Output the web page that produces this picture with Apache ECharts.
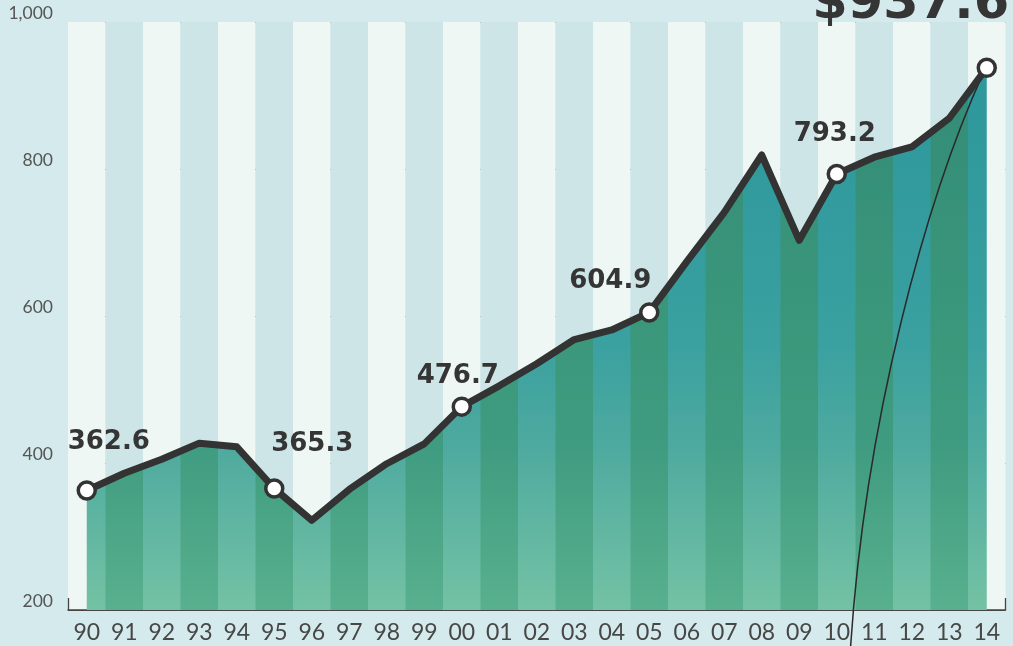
<!DOCTYPE html>
<html>
<head>
<meta charset="utf-8">
<script src="https://cdn.jsdelivr.net/npm/echarts@6/dist/echarts.min.js"></script>
<style>
html,body{margin:0;padding:0;background:#d5eaec;}
#c{width:1013px;height:646px;}
</style>
</head>
<body>
<div id="c"></div>
<script>
// ---- data ----
const categories = ['90','91','92','93','94','95','96','97','98','99','00','01','02','03','04','05','06','07','08','09','10','11','12','13','14'];
const values = [362.6, 386, 405, 427, 422, 365.3, 322, 364, 399, 426, 476.7, 505, 535, 568, 581, 604.9, 674, 741, 819, 703, 793.2, 816, 830, 869, 937.6];
const labeledIdx = [0, 5, 10, 15, 20, 24];
const yTickValues = [200, 400, 600, 800, 1000];
const yTickLabels = ['200', '400', '600', '800', '1,000'];

// ---- styles ----
const labelOffsets = {0:[22,-20], 5:[38,-16], 10:[-4,-2], 15:[-39,-3], 20:[-2,-11], 24:[-76,-22]};
const chart = echarts.init(document.getElementById('c'), null, {renderer:'canvas'});

const lineData = values.map((v, i) => {
  const isLab = labeledIdx.indexOf(i) >= 0;
  const item = { value: v, symbol: isLab ? 'circle' : 'none' };
  if (isLab) {
    const last = i === values.length - 1;
    item.label = {
      show: true,
      position: 'top',
      offset: labelOffsets[i],
      formatter: last ? '$' + v.toFixed(1) : v.toFixed(1),
      fontFamily: 'DejaVu Sans',
      fontWeight: 'bold',
      fontSize: last ? 51 : 26,
      color: '#353535'
    };
  }
  return item;
});

function bandGradient(i, yTop, yBot) {
  const even = i % 2 === 0;
  const stops = even
    ? [{offset:0,color:'#2e989c'},{offset:0.47,color:'#3aa0a0'},{offset:0.68,color:'#4eaa9f'},{offset:1,color:'#74c2a4'}]
    : [{offset:0,color:'#348d78'},{offset:0.47,color:'#3b987b'},{offset:0.68,color:'#409c80'},{offset:1,color:'#58b08e'}];
  return {type:'linear', x:0, y:yTop, x2:0, y2:yBot, global:true, colorStops: stops};
}

const option = {
  backgroundColor: '#d5eaec',
  animation: false,
  grid: { left: 68, right: 7.5, top: 22, bottom: 36 },
  xAxis: {
    type: 'category',
    data: categories,
    boundaryGap: true,
    axisLine: { show: true, lineStyle: { color: '#444', width: 1.5 } },
    axisTick: { show: true, inside: true, length: 12, lineStyle: { color: '#444', width: 1.3 } },
    axisLabel: { margin: 11, fontSize: 23, color: '#474747', fontFamily: 'Lato' },
    splitLine: { show: false },
    splitArea: { show: true, interval: 0, areaStyle: { color: ['#eef7f4', '#cde5e7'] } }
  },
  yAxis: {
    type: 'value',
    min: 200, max: 1000, interval: 200,
    axisLine: { show: false },
    axisTick: { show: false },
    axisLabel: {
      margin: 15, fontSize: 17.5, color: '#555', fontFamily: 'Lato', verticalAlign: 'bottom',
      formatter: function (v) { const k = yTickValues.indexOf(v); return k >= 0 ? yTickLabels[k] : ''; }
    },
    splitLine: { show: true, lineStyle: { color: '#4a4a4a', width: 1.2 } }
  },
  series: [
    {
      type: 'custom',
      z: 2,
      silent: true,
      data: values.map((v, i) => [i, v]),
      encode: { x: 0, y: 1 },
      renderItem: function (params, api) {
        const i = api.value(0);
        const n = values.length;
        const c = api.coord([i, values[i]]);
        const bw = api.size([1, 0])[0];
        const yBot = api.coord([i, 200])[1];
        const yTop = api.coord([i, 1000])[1];
        const pts = [];
        let lx = c[0], rx = c[0];
        if (i > 0) {
          const mid = (values[i - 1] + values[i]) / 2;
          lx = c[0] - bw / 2;
          pts.push([lx, api.coord([i, mid])[1]]);
        }
        pts.push([c[0], c[1]]);
        if (i < n - 1) {
          const mid = (values[i + 1] + values[i]) / 2;
          rx = c[0] + bw / 2 + 0.5;
          pts.push([rx, api.coord([i, mid])[1]]);
        }
        pts.push([rx, yBot]);
        pts.push([lx, yBot]);
        return {
          type: 'polygon',
          shape: { points: pts },
          style: { fill: bandGradient(i, yTop + 80, yBot), stroke: null }
        };
      }
    },
    {
      type: 'line',
      z: 5,
      data: lineData,
      symbol: 'circle',
      symbolSize: 17,
      showSymbol: true,
      showAllSymbol: true,
      lineStyle: { color: '#333', width: 7, join: 'round' },
      itemStyle: { color: '#ffffff', borderColor: '#333', borderWidth: 3.5 },
      emphasis: { disabled: true },
      label: { show: false }
    }
  ]
};
chart.setOption(option);

// decorative leader line (thin curve) ending at the last point
const endPt = chart.convertToPixel({ gridIndex: 0 }, [values.length - 1, values[values.length - 1]]);
const p20 = chart.convertToPixel({ gridIndex: 0 }, [20, 200]);
const p21 = chart.convertToPixel({ gridIndex: 0 }, [21, 200]);
const startX = p20[0] + 0.37 * (p21[0] - p20[0]);
const baseY = p20[1];
chart.setOption({
  graphic: [{
    type: 'bezierCurve',
    z: 3,
    silent: true,
    shape: {
      x1: startX, y1: 646,
      cpx1: startX + 15, cpy1: baseY - 190,
      cpx2: startX + 75, cpy2: 200,
      x2: endPt[0] - 3, y2: endPt[1] + 4
    },
    style: { stroke: '#2a2a2a', lineWidth: 1.5, fill: null }
  }]
});
</script>
</body>
</html>
